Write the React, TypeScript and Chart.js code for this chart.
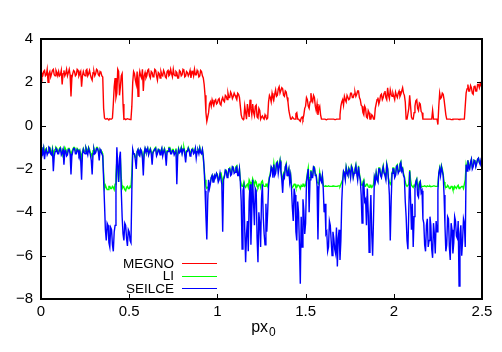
import React, { useEffect, useRef } from "react";
import { Chart, registerables } from "chart.js";

Chart.register(...registerables);

// x positions (px0), read every 0.005
const xs = [
  0.000, 0.005, 0.010, 0.015, 0.020, 0.025, 0.030, 0.035, 0.040, 0.045, 0.050, 0.055, 0.060, 0.065, 0.070, 0.075, 0.080, 0.085, 0.090, 0.095,
  0.100, 0.105, 0.110, 0.115, 0.120, 0.125, 0.130, 0.135, 0.140, 0.145, 0.150, 0.155, 0.160, 0.165, 0.170, 0.175, 0.180, 0.185, 0.190, 0.195,
  0.200, 0.205, 0.210, 0.215, 0.220, 0.225, 0.230, 0.235, 0.240, 0.245, 0.250, 0.255, 0.260, 0.265, 0.270, 0.275, 0.280, 0.285, 0.290, 0.295,
  0.300, 0.305, 0.310, 0.315, 0.320, 0.325, 0.330, 0.335, 0.340, 0.345, 0.350, 0.355, 0.360, 0.365, 0.370, 0.375, 0.380, 0.385, 0.390, 0.395,
  0.400, 0.405, 0.410, 0.415, 0.420, 0.425, 0.430, 0.435, 0.440, 0.445, 0.450, 0.455, 0.460, 0.465, 0.470, 0.475, 0.480, 0.485, 0.490, 0.495,
  0.500, 0.505, 0.510, 0.515, 0.520, 0.525, 0.530, 0.535, 0.540, 0.545, 0.550, 0.555, 0.560, 0.565, 0.570, 0.575, 0.580, 0.585, 0.590, 0.595,
  0.600, 0.605, 0.610, 0.615, 0.620, 0.625, 0.630, 0.635, 0.640, 0.645, 0.650, 0.655, 0.660, 0.665, 0.670, 0.675, 0.680, 0.685, 0.690, 0.695,
  0.700, 0.705, 0.710, 0.715, 0.720, 0.725, 0.730, 0.735, 0.740, 0.745, 0.750, 0.755, 0.760, 0.765, 0.770, 0.775, 0.780, 0.785, 0.790, 0.795,
  0.800, 0.805, 0.810, 0.815, 0.820, 0.825, 0.830, 0.835, 0.840, 0.845, 0.850, 0.855, 0.860, 0.865, 0.870, 0.875, 0.880, 0.885, 0.890, 0.895,
  0.900, 0.905, 0.910, 0.915, 0.920, 0.925, 0.930, 0.935, 0.940, 0.945, 0.950, 0.955, 0.960, 0.965, 0.970, 0.975, 0.980, 0.985, 0.990, 0.995,
  1.000, 1.005, 1.010, 1.015, 1.020, 1.025, 1.030, 1.035, 1.040, 1.045, 1.050, 1.055, 1.060, 1.065, 1.070, 1.075, 1.080, 1.085, 1.090, 1.095,
  1.100, 1.105, 1.110, 1.115, 1.120, 1.125, 1.130, 1.135, 1.140, 1.145, 1.150, 1.155, 1.160, 1.165, 1.170, 1.175, 1.180, 1.185, 1.190, 1.195,
  1.200, 1.205, 1.210, 1.215, 1.220, 1.225, 1.230, 1.235, 1.240, 1.245, 1.250, 1.255, 1.260, 1.265, 1.270, 1.275, 1.280, 1.285, 1.290, 1.295,
  1.300, 1.305, 1.310, 1.315, 1.320, 1.325, 1.330, 1.335, 1.340, 1.345, 1.350, 1.355, 1.360, 1.365, 1.370, 1.375, 1.380, 1.385, 1.390, 1.395,
  1.400, 1.405, 1.410, 1.415, 1.420, 1.425, 1.430, 1.435, 1.440, 1.445, 1.450, 1.455, 1.460, 1.465, 1.470, 1.475, 1.480, 1.485, 1.490, 1.495,
  1.500, 1.505, 1.510, 1.515, 1.520, 1.525, 1.530, 1.535, 1.540, 1.545, 1.550, 1.555, 1.560, 1.565, 1.570, 1.575, 1.580, 1.585, 1.590, 1.595,
  1.600, 1.605, 1.610, 1.615, 1.620, 1.625, 1.630, 1.635, 1.640, 1.645, 1.650, 1.655, 1.660, 1.665, 1.670, 1.675, 1.680, 1.685, 1.690, 1.695,
  1.700, 1.705, 1.710, 1.715, 1.720, 1.725, 1.730, 1.735, 1.740, 1.745, 1.750, 1.755, 1.760, 1.765, 1.770, 1.775, 1.780, 1.785, 1.790, 1.795,
  1.800, 1.805, 1.810, 1.815, 1.820, 1.825, 1.830, 1.835, 1.840, 1.845, 1.850, 1.855, 1.860, 1.865, 1.870, 1.875, 1.880, 1.885, 1.890, 1.895,
  1.900, 1.905, 1.910, 1.915, 1.920, 1.925, 1.930, 1.935, 1.940, 1.945, 1.950, 1.955, 1.960, 1.965, 1.970, 1.975, 1.980, 1.985, 1.990, 1.995,
  2.000, 2.005, 2.010, 2.015, 2.020, 2.025, 2.030, 2.035, 2.040, 2.045, 2.050, 2.055, 2.060, 2.065, 2.070, 2.075, 2.080, 2.085, 2.090, 2.095,
  2.100, 2.105, 2.110, 2.115, 2.120, 2.125, 2.130, 2.135, 2.140, 2.145, 2.150, 2.155, 2.160, 2.165, 2.170, 2.175, 2.180, 2.185, 2.190, 2.195,
  2.200, 2.205, 2.210, 2.215, 2.220, 2.225, 2.230, 2.235, 2.240, 2.245, 2.250, 2.255, 2.260, 2.265, 2.270, 2.275, 2.280, 2.285, 2.290, 2.295,
  2.300, 2.305, 2.310, 2.315, 2.320, 2.325, 2.330, 2.335, 2.340, 2.345, 2.350, 2.355, 2.360, 2.365, 2.370, 2.375, 2.380, 2.385, 2.390, 2.395,
  2.400, 2.405, 2.410, 2.415, 2.420, 2.425, 2.430, 2.435, 2.440, 2.445, 2.450, 2.455, 2.460, 2.465, 2.470, 2.475, 2.480, 2.485, 2.490, 2.495,
  2.500,
];

const megno = [
  2.45, 2.25, 2.3, 2.5, 2.55, 2.3, 2.35, 2.6, 2.0, 2.4, 2.5, 2.25, 2.4, 2.55, 2.6, 2.35, 2.3, 2.55, 2.45, 2.3,
  2.5, 2.3, 2.35, 2.55, 1.9, 2.4, 2.55, 2.3, 2.4, 2.6, 2.3, 2.45, 2.6, 2.35, 1.35, 2.2, 2.4, 2.55, 2.5, 2.3,
  2.35, 2.6, 2.55, 2.3, 2.4, 2.5, 1.8, 2.3, 2.5, 2.35, 2.3, 2.55, 2.6, 2.3, 2.4, 2.55, 2.35, 2.2, 2.1, 2.45,
  2.5, 2.3, 2.4, 2.6, 2.55, 2.35, 2.3, 2.5, 2.45, 2.3, 2.25, 0.8, 0.35, 0.3, 0.3, 0.33, 0.3, 0.28, 0.32, 0.3,
  0.3, 0.35, 1.0, 1.8, 2.2, 1.3, 1.5, 2.6, 2.5, 1.4, 1.8, 2.3, 2.4, 1.0, 0.3, 0.32, 0.28, 0.3, 0.32, 0.3,
  0.3, 0.28, 0.3, 0.9, 2.0, 2.5, 2.4, 2.1, 1.9, 2.5, 1.35, 2.2, 2.5, 2.3, 2.2, 2.6, 1.6, 2.3, 2.45, 2.2,
  2.3, 2.55, 2.6, 2.3, 2.2, 2.5, 2.45, 2.25, 2.3, 2.6, 2.55, 2.3, 2.1, 2.45, 2.4, 2.2, 2.5, 2.35, 2.3, 2.55,
  2.45, 2.25, 2.2, 2.5, 2.55, 2.3, 2.35, 2.6, 2.4, 2.25, 2.6, 2.35, 2.3, 2.5, 2.45, 2.2, 2.2, 2.55, 2.5, 2.3,
  2.35, 2.6, 2.55, 2.25, 2.3, 2.5, 2.45, 2.3, 2.4, 2.55, 2.2, 2.45, 2.5, 2.3, 2.6, 2.35, 2.35, 2.55, 2.45, 2.25,
  2.3, 2.55, 2.5, 2.3, 2.2, 1.9, 1.4, 0.6, 0.2, 0.4, 0.6, 1.0, 1.1, 0.9, 1.2, 1.05, 0.95, 1.15, 1.2, 1.0,
  1.05, 1.2, 1.25, 1.0, 0.95, 1.2, 1.3, 1.15, 1.1, 1.4, 1.35, 1.2, 1.5, 1.3, 1.3, 1.55, 1.45, 1.25, 1.35, 1.5,
  1.4, 1.3, 1.2, 1.5, 1.45, 1.3, 0.9, 0.5, 0.35, 0.3, 0.3, 0.9, 0.6, 0.3, 1.0, 0.7, 0.4, 1.2, 0.8, 0.5,
  1.0, 0.6, 0.45, 0.9, 0.95, 0.4, 0.35, 0.8, 0.7, 0.3, 0.4, 0.45, 0.35, 0.3, 0.5, 0.4, 0.3, 0.35, 1.1, 1.4,
  1.3, 1.1, 1.5, 1.3, 1.2, 1.45, 1.65, 1.35, 1.4, 1.7, 1.8, 1.5, 1.5, 1.75, 1.7, 1.4, 1.35, 1.6, 1.55, 1.3,
  1.1, 0.7, 0.5, 0.3, 0.3, 0.4, 0.35, 0.3, 0.3, 0.55, 0.6, 0.3, 0.3, 0.25, 0.2, 0.35, 0.4, 0.3, 0.5, 0.8,
  0.9, 1.3, 1.2, 0.9, 0.8, 1.1, 1.5, 1.2, 1.1, 1.4, 1.3, 0.9, 0.7, 1.0, 0.5, 0.8, 0.9, 0.5, 0.3, 0.3,
  0.3, 0.3, 0.3, 0.28, 0.28, 0.3, 0.3, 0.3, 0.3, 0.3, 0.3, 0.3, 0.3, 0.28, 0.28, 0.3, 0.3, 0.3, 0.3, 0.5,
  0.9, 1.1, 1.2, 0.95, 1.35, 1.2, 1.1, 1.4, 1.4, 1.2, 1.25, 1.5, 1.5, 1.3, 1.3, 1.45, 1.55, 1.35, 1.45, 1.6,
  1.6, 1.3, 1.2, 0.95, 0.9, 0.6, 0.5, 0.9, 0.8, 0.4, 0.35, 0.7, 0.6, 0.3, 0.3, 0.5, 0.45, 0.3, 0.3, 0.8,
  1.0, 1.2, 1.3, 1.0, 1.15, 1.4, 1.45, 1.2, 1.3, 1.5, 1.6, 1.3, 1.2, 1.75, 1.4, 1.25, 1.65, 1.45, 1.35, 1.5,
  1.35, 1.2, 1.55, 1.4, 1.3, 1.5, 1.6, 1.35, 1.45, 1.6, 1.75, 1.5, 1.4, 1.1, 0.3, 0.3, 0.3, 0.8, 1.4, 0.9,
  0.4, 0.3, 0.3, 0.6, 0.9, 1.15, 1.2, 0.8, 0.7, 1.05, 1.0, 0.65, 0.6, 0.3, 0.3, 0.3, 0.3, 0.3, 0.3, 0.3,
  0.3, 0.3, 0.3, 0.3, 0.7, 0.3, 0.3, 0.3, 0.3, 0.3, 0.05, 0.9, 1.5, 1.25, 1.3, 1.5, 1.45, 1.2, 1.2, 0.5,
  0.3, 0.3, 0.3, 0.3, 0.3, 0.28, 0.28, 0.3, 0.3, 0.3, 0.3, 0.3, 0.3, 0.3, 0.28, 0.3, 0.3, 0.3, 0.3, 0.3,
  0.3, 0.9, 1.5, 1.7, 1.9, 1.6, 1.6, 1.85, 1.75, 1.5, 1.45, 1.8, 1.85, 1.6, 1.6, 1.9, 1.9, 1.75, 1.95, 1.85,
  2.0,
];

const li = [
  -1.0, -1.1, -1.15, -1.0, -1.3, -1.1, -1.05, -1.25, -1.2, -1.0, -1.0, -1.2, -1.25, -1.05, -1.4, -1.15, -1.1, -1.0, -1.05, -1.2,
  -1.2, -1.05, -1.0, -1.2, -1.35, -1.1, -1.15, -1.0, -1.1, -1.25, -1.25, -1.05, -1.05, -1.2, -1.5, -1.2, -1.1, -1.0, -1.0, -1.15,
  -1.2, -1.05, -1.1, -1.25, -1.15, -1.3, -1.6, -1.2, -1.05, -1.15, -1.2, -1.0, -1.1, -1.2, -1.0, -1.1, -1.25, -1.3, -1.45, -1.15,
  -1.05, -1.2, -1.2, -1.0, -1.0, -1.15, -1.3, -1.1, -1.15, -1.2, -1.3, -2.2, -2.9, -2.75, -2.85, -2.95, -2.95, -2.8, -2.8, -2.9,
  -2.9, -2.8, -2.85, -2.95, -2.7, -2.3, -1.6, -2.0, -2.6, -1.9, -1.5, -2.4, -2.9, -2.8, -2.85, -2.95, -3.0, -2.85, -2.8, -2.9,
  -2.9, -2.8, -2.85, -2.2, -1.15, -1.3, -1.3, -1.45, -1.5, -1.2, -1.1, -1.25, -1.3, -1.1, -1.15, -1.35, -1.6, -1.2, -1.05, -1.2,
  -1.15, -1.05, -1.3, -1.15, -1.05, -1.2, -1.4, -1.2, -1.2, -1.05, -1.0, -1.3, -1.25, -1.1, -1.1, -1.2, -1.15, -1.05, -1.3, -1.15,
  -1.05, -1.25, -1.4, -1.15, -1.15, -1.0, -1.0, -1.2, -1.25, -1.1, -1.1, -1.25, -1.2, -1.05, -1.6, -1.3, -1.05, -1.2, -1.15, -1.0,
  -1.25, -1.05, -1.0, -1.2, -1.45, -1.15, -1.15, -1.0, -1.1, -1.3, -1.3, -1.1, -1.05, -1.2, -1.2, -1.05, -1.35, -1.2, -1.1, -1.2,
  -1.0, -1.2, -1.25, -1.1, -1.5, -2.0, -2.5, -2.8, -2.9, -2.85, -2.8, -2.7, -2.6, -2.4, -2.3, -2.55, -2.55, -2.3, -2.35, -2.2,
  -2.25, -2.5, -2.45, -2.2, -2.15, -2.4, -2.7, -2.4, -2.3, -2.05, -2.05, -2.3, -2.25, -2.0, -1.95, -2.2, -2.2, -1.9, -1.9, -2.1,
  -2.1, -1.9, -1.85, -2.2, -2.25, -2.0, -2.5, -2.7, -2.8, -2.75, -2.6, -2.8, -2.85, -2.75, -2.7, -2.85, -2.5, -2.6, -2.8, -2.7,
  -2.45, -2.6, -2.75, -2.55, -2.6, -2.8, -2.85, -2.7, -2.7, -2.85, -2.6, -2.55, -2.75, -2.8, -2.8, -2.7, -2.7, -2.8, -2.6, -2.35,
  -2.2, -1.9, -1.95, -2.2, -1.75, -2.1, -2.1, -1.7, -1.65, -2.0, -1.85, -1.6, -2.05, -2.35, -2.5, -2.2, -2.3, -1.9, -1.75, -2.1,
  -2.15, -2.0, -2.5, -2.25, -2.75, -2.85, -2.8, -2.7, -2.7, -2.85, -2.85, -2.75, -2.75, -2.8, -2.9, -2.75, -2.8, -2.7, -2.7, -2.8,
  -2.75, -2.5, -2.2, -1.95, -2.6, -2.4, -2.05, -2.3, -2.3, -1.9, -1.9, -2.2, -2.25, -2.6, -2.6, -2.7, -2.15, -2.4, -2.5, -2.3,
  -2.75, -2.8, -2.8, -2.78, -2.8, -2.8, -2.78, -2.8, -2.8, -2.8, -2.8, -2.78, -2.78, -2.8, -2.8, -2.8, -2.8, -2.78, -2.78, -2.8,
  -2.7, -2.6, -2.5, -2.1, -2.15, -2.4, -1.9, -2.1, -2.25, -1.95, -2.05, -2.3, -1.85, -1.95, -2.35, -2.15, -2.0, -1.8, -2.15, -2.4,
  -1.85, -2.2, -2.45, -2.7, -2.75, -2.6, -2.5, -2.8, -2.8, -2.7, -2.7, -2.8, -2.85, -2.75, -2.75, -2.85, -2.8, -2.7, -2.35, -2.5,
  -2.15, -2.4, -2.5, -1.95, -1.95, -2.2, -2.35, -2.05, -1.85, -2.15, -2.25, -2.4, -1.75, -1.95, -2.45, -2.6, -2.7, -2.6, -2.15, -1.95,
  -1.95, -2.3, -2.25, -1.85, -1.8, -2.1, -2.05, -1.75, -1.65, -2.0, -1.95, -2.2, -2.35, -2.6, -2.75, -2.8, -2.8, -2.7, -2.05, -2.5,
  -2.75, -2.8, -2.85, -2.75, -2.8, -2.55, -2.45, -2.75, -2.9, -2.6, -2.55, -2.85, -2.8, -2.8, -2.8, -2.78, -2.8, -2.82, -2.78, -2.8,
  -2.8, -2.78, -2.82, -2.8, -2.8, -2.78, -2.78, -2.8, -2.8, -2.8, -2.7, -2.2, -1.95, -2.2, -1.85, -2.0, -2.25, -2.6, -2.75, -2.85,
  -2.85, -2.75, -2.8, -2.9, -2.9, -2.8, -2.8, -2.95, -2.95, -2.8, -2.85, -2.9, -2.8, -2.75, -2.9, -2.85, -2.85, -2.8, -2.8, -2.9,
  -2.7, -2.5, -1.8, -2.0, -1.6, -1.85, -1.95, -1.7, -1.55, -1.9, -1.85, -1.6, -1.65, -1.85, -1.7, -1.55, -1.5, -1.7, -1.75, -1.6,
  -1.6,
];

const seilce = [
  -1.0, -1.2, -1.3, -1.05, -1.55, -1.2, -1.1, -1.35, -1.25, -1.0, -1.05, -1.3, -1.35, -1.15, -2.1, -1.4, -1.2, -1.05, -1.1, -1.3,
  -1.3, -1.1, -1.05, -1.35, -1.25, -1.1, -1.8, -1.2, -1.15, -1.4, -1.35, -1.1, -1.1, -1.3, -2.25, -1.4, -1.2, -1.05, -1.05, -1.3,
  -1.3, -1.1, -1.15, -1.35, -1.2, -1.6, -2.5, -1.3, -1.1, -1.25, -1.3, -1.05, -1.2, -1.35, -1.05, -1.2, -1.35, -1.6, -2.25, -1.3,
  -1.1, -1.3, -1.25, -1.05, -1.05, -1.2, -1.6, -1.1, -1.2, -1.3, -1.4, -2.5, -3.6, -4.8, -5.3, -4.5, -4.6, -5.4, -5.6, -4.7,
  -4.8, -5.5, -5.8, -4.9, -4.6, -3.0, -1.0, -1.8, -2.6, -1.5, -1.2, -3.0, -4.2, -5.0, -5.3, -4.5, -4.6, -5.2, -5.55, -4.8,
  -4.9, -5.3, -5.4, -3.0, -1.1, -1.3, -1.3, -1.6, -2.0, -1.2, -1.1, -1.35, -1.4, -1.1, -1.2, -1.5, -2.3, -1.3, -1.05, -1.2,
  -1.2, -1.05, -1.35, -1.2, -1.1, -1.3, -1.8, -1.25, -1.25, -1.1, -1.05, -1.4, -1.3, -1.1, -1.15, -1.35, -1.2, -1.05, -1.4, -1.2,
  -1.1, -1.35, -1.85, -1.2, -1.2, -1.05, -1.05, -1.3, -1.3, -1.15, -1.15, -1.35, -1.25, -1.1, -2.7, -1.4, -1.1, -1.25, -1.2, -1.05,
  -1.3, -1.1, -1.05, -1.35, -1.7, -1.2, -1.2, -1.05, -1.15, -1.4, -1.35, -1.1, -1.1, -1.3, -1.25, -1.05, -1.5, -1.2, -1.15, -1.3,
  -1.05, -1.25, -1.3, -1.1, -1.4, -2.0, -3.0, -4.2, -5.25, -3.5, -2.5, -2.9, -2.7, -2.4, -2.3, -2.6, -2.6, -2.3, -2.4, -2.2,
  -2.3, -2.6, -2.5, -2.2, -2.2, -2.7, -4.9, -2.5, -2.35, -2.05, -2.1, -2.4, -2.3, -2.0, -2.0, -2.3, -2.25, -1.9, -1.95, -2.2,
  -2.15, -1.95, -1.9, -2.3, -2.3, -2.0, -2.6, -3.5, -5.7, -3.0, -2.8, -4.8, -6.3, -5.0, -4.4, -5.8, -3.5, -2.7, -5.5, -4.0,
  -2.5, -3.6, -4.6, -2.9, -3.0, -5.2, -6.3, -4.0, -4.5, -5.6, -3.4, -2.7, -4.2, -5.0, -5.5, -3.6, -4.9, -4.0, -2.8, -2.4,
  -2.3, -1.9, -2.0, -2.4, -1.8, -2.3, -2.2, -1.75, -1.7, -2.2, -1.9, -1.65, -2.1, -2.5, -3.1, -2.3, -2.4, -1.9, -1.8, -2.3,
  -2.2, -2.0, -2.6, -2.3, -2.9, -3.8, -4.4, -2.9, -3.2, -4.9, -5.3, -3.5, -4.0, -5.5, -7.3, -4.2, -5.6, -3.4, -3.9, -5.0,
  -4.5, -2.6, -2.3, -2.0, -4.0, -2.5, -2.1, -2.4, -2.4, -1.9, -1.95, -2.3, -2.3, -2.8, -5.25, -3.0, -2.2, -2.5, -2.6, -2.3,
  -2.9, -4.0, -3.6, -5.0, -4.9, -5.8, -5.6, -4.4, -4.6, -5.3, -6.0, -4.9, -5.2, -5.7, -5.9, -4.7, -6.5, -5.2, -4.8, -6.2,
  -5.3, -3.5, -2.6, -2.1, -2.2, -2.5, -1.95, -2.2, -2.3, -2.0, -2.1, -2.4, -1.9, -2.0, -2.4, -2.2, -2.05, -1.85, -2.2, -2.5,
  -1.9, -2.3, -2.5, -3.2, -4.5, -2.7, -2.6, -3.5, -3.4, -4.6, -2.9, -4.0, -5.85, -4.2, -3.2, -5.0, -6.0, -4.3, -2.4, -2.6,
  -2.2, -2.5, -2.6, -2.0, -2.0, -2.3, -2.4, -2.1, -1.9, -2.2, -2.3, -2.5, -1.8, -2.0, -2.5, -3.2, -5.3, -3.5, -2.2, -2.0,
  -2.0, -2.4, -2.3, -1.9, -1.85, -2.2, -2.1, -1.8, -1.7, -2.1, -2.0, -2.3, -2.4, -3.5, -4.2, -5.3, -5.7, -3.9, -2.1, -3.4,
  -4.8, -3.6, -5.6, -4.2, -2.9, -2.6, -2.5, -3.2, -3.3, -2.7, -2.6, -3.1, -3.0, -4.3, -4.5, -5.5, -5.8, -4.6, -4.3, -5.6,
  -5.3, -4.2, -4.6, -5.7, -6.1, -4.5, -5.0, -5.9, -4.4, -4.9, -3.0, -2.2, -2.0, -2.3, -1.9, -2.1, -2.3, -3.2, -4.6, -5.8,
  -5.5, -4.2, -4.3, -5.6, -6.2, -4.5, -4.8, -5.9, -5.4, -4.2, -4.4, -5.1, -5.2, -4.4, -7.4, -5.0, -4.6, -6.0, -5.3, -4.3,
  -4.5, -5.6, -1.8, -2.1, -1.6, -1.9, -2.0, -1.7, -1.55, -2.0, -1.9, -1.6, -1.65, -1.9, -1.75, -1.55, -1.5, -1.7, -1.8, -1.55,
  -1.6,
];

const seriesNames = ["MEGNO", "LI", "SEILCE"];
const seriesColors = ["#ff0000", "#00ff00", "#0000ff"];
const xTicks = [0, 0.5, 1, 1.5, 2, 2.5];
const yTicks = [-8, -6, -4, -2, 0, 2, 4];
const xTitle = "px";
const xTitleSub = "0";

const FONT = "'Liberation Sans', Arial, Helvetica, sans-serif";

const gnuplotPlugin = {
  id: "gnuplotFrame",
  afterDraw(chart: any) {
    const { ctx, chartArea: ca } = chart;
    const xs2 = chart.scales.x;
    const ys2 = chart.scales.y;
    ctx.save();
    ctx.strokeStyle = "#000";
    ctx.lineWidth = 1;
    const tl = 5;
    ctx.beginPath();
    xTicks.forEach((v) => {
      const p = Math.round(xs2.getPixelForValue(v)) + 0.5;
      ctx.moveTo(p, ca.bottom);
      ctx.lineTo(p, ca.bottom - tl);
      ctx.moveTo(p, ca.top);
      ctx.lineTo(p, ca.top + tl);
    });
    yTicks.forEach((v) => {
      const p = Math.round(ys2.getPixelForValue(v)) + 0.5;
      ctx.moveTo(ca.left, p);
      ctx.lineTo(ca.left + tl, p);
      ctx.moveTo(ca.right, p);
      ctx.lineTo(ca.right - tl, p);
    });
    ctx.stroke();
    ctx.lineWidth = 2;
    ctx.strokeRect(ca.left, ca.top, ca.right - ca.left, ca.bottom - ca.top);

    // legend
    ctx.font = `13.5px ${FONT}`;
    ctx.textAlign = "right";
    ctx.textBaseline = "middle";
    const ds = chart.data.datasets;
    const rowY = [ca.bottom - 36, ca.bottom - 23.5, ca.bottom - 11];
    ds.forEach((d: any, i: number) => {
      const y = rowY[i];
      ctx.fillStyle = "#000";
      ctx.fillText(d.label, ca.left + 133, y + 1);
      ctx.strokeStyle = d.borderColor;
      ctx.lineWidth = 1;
      ctx.beginPath();
      ctx.moveTo(ca.left + 141, Math.round(y) + 0.5);
      ctx.lineTo(ca.left + 176, Math.round(y) + 0.5);
      ctx.stroke();
    });

    // axis title with subscript
    ctx.fillStyle = "#000";
    ctx.textAlign = "left";
    ctx.textBaseline = "alphabetic";
    ctx.font = `16px ${FONT}`;
    const w1 = ctx.measureText(xTitle).width;
    ctx.font = `12px ${FONT}`;
    const w2 = ctx.measureText(xTitleSub).width;
    const cx = (ca.left + ca.right) / 2 + 2;
    const x0 = cx - (w1 + w2 + 1) / 2;
    ctx.font = `16px ${FONT}`;
    ctx.fillText(xTitle, x0, 332);
    ctx.font = `12px ${FONT}`;
    ctx.fillText(xTitleSub, x0 + w1 + 1, 336);
    ctx.restore();
  },
};

export default function App() {
  const ref = useRef<HTMLCanvasElement | null>(null);
  useEffect(() => {
    if (!ref.current) return;
    const chart = new Chart(ref.current, {
      type: "line",
      data: {
        labels: xs,
        datasets: [
          { label: seriesNames[0], data: megno, borderColor: seriesColors[0], order: 2 },
          { label: seriesNames[1], data: li, borderColor: seriesColors[1], order: 1 },
          { label: seriesNames[2], data: seilce, borderColor: seriesColors[2], order: 0 },
        ].map((d) => ({
          ...d,
          borderWidth: 1.4,
          pointRadius: 0,
          tension: 0,
          fill: false,
          backgroundColor: d.borderColor,
        })),
      },
      options: {
        responsive: false,
        animation: false,
        events: [],
        layout: { padding: { top: 39, right: 20, left: 0, bottom: 0 } },
        plugins: { legend: { display: false }, tooltip: { enabled: false } },
        scales: {
          x: {
            type: "linear",
            min: 0,
            max: 2.5,
            afterFit: (s: any) => {
              s.height = 53;
            },
            afterBuildTicks: (s: any) => {
              s.ticks = xTicks.map((v) => ({ value: v }));
            },
            grid: { display: false, drawTicks: false },
            border: { display: false },
            ticks: {
              color: "#000",
              font: { family: FONT, size: 15 },
              padding: 4,
              maxRotation: 0,
              autoSkip: false,
              callback: (v: any) => String(v),
            },
          },
          y: {
            type: "linear",
            min: -8,
            max: 4,
            afterFit: (s: any) => {
              s.width = 41;
            },
            afterBuildTicks: (s: any) => {
              s.ticks = yTicks.map((v) => ({ value: v }));
            },
            grid: { display: false, drawTicks: false },
            border: { display: false },
            ticks: {
              color: "#000",
              font: { family: FONT, size: 15 },
              padding: 8,
              autoSkip: false,
              callback: (v: any) => (v < 0 ? "\u2212" + Math.abs(v) : String(v)),
            },
          },
        },
      },
      plugins: [gnuplotPlugin],
    });
    return () => chart.destroy();
  }, []);
  return (
    <div style={{ position: "absolute", left: 0, top: 0, width: 502, height: 352, background: "#fff" }}>
      <canvas ref={ref} width={502} height={352} />
    </div>
  );
}
